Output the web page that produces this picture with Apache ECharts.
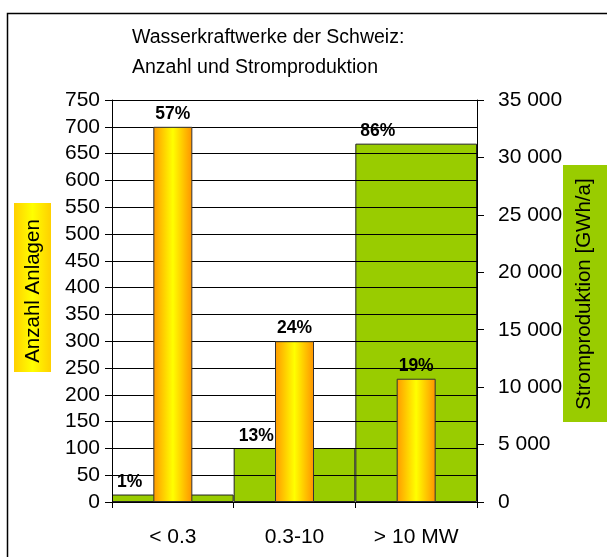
<!DOCTYPE html>
<html>
<head>
<meta charset="utf-8">
<script src="https://cdn.jsdelivr.net/npm/echarts@6/dist/echarts.min.js"></script>
<style>html,body{margin:0;padding:0;background:#fff;}#c{width:607px;height:557px;}</style>
</head>
<body>
<div id="c"></div>
<script>
var categories = ['< 0.3', '0.3-10', '> 10 MW'];
var anzahlAnlagen = [700, 300, 230];
var stromproduktion = [650, 4700, 31200];
var anzahlLabels = ['57%', '24%', '19%'];
var stromLabels = ['1%', '13%', '86%'];
var leftTicks = {min: 0, max: 750, interval: 50};
var rightTicks = {min: 0, max: 35000, interval: 5000};

var FONT = '"Liberation Sans", Arial, sans-serif';

var chart = echarts.init(document.getElementById('c'), null, {renderer: 'canvas'});
var orangeGrad = new echarts.graphic.LinearGradient(0, 0, 1, 0, [
  {offset: 0, color: '#FF9900'},
  {offset: 0.5, color: '#FFFF00'},
  {offset: 1, color: '#FF9200'}
]);
var yellowBox = new echarts.graphic.LinearGradient(0, 0, 1, 0, [
  {offset: 0, color: '#FFD000'},
  {offset: 0.5, color: '#FFFF00'},
  {offset: 1, color: '#FFD000'}
]);

chart.setOption({
  animation: false,
  title: {
    text: 'Wasserkraftwerke der Schweiz:\nAnzahl und Stromproduktion',
    left: 132, top: 23, padding: 0,
    textStyle: {fontFamily: FONT, fontSize: 19.5, fontWeight: 'normal', color: '#000', lineHeight: 30}
  },
  grid: {left: 112, right: 130, top: 100, bottom: 55, containLabel: false},
  xAxis: [{
    type: 'category', data: categories, position: 'bottom',
    axisLine: {lineStyle: {color: '#000', width: 1}},
    axisTick: {show: true, alignWithLabel: false, length: 6, lineStyle: {color: '#000'}},
    axisLabel: {fontFamily: FONT, fontSize: 21, color: '#000', margin: 25},
    splitLine: {show: false}
  }, {
    type: 'category', data: categories, show: false
  }],
  yAxis: [{
    type: 'value', min: leftTicks.min, max: leftTicks.max, interval: leftTicks.interval, z: 1.5,
    axisLine: {show: true, lineStyle: {color: '#000', width: 1}},
    axisTick: {show: true, length: 7, lineStyle: {color: '#000'}},
    axisLabel: {fontFamily: FONT, fontSize: 21, color: '#000', margin: 12},
    splitLine: {show: true, lineStyle: {color: '#000', width: 1}}
  }, {
    type: 'value', min: rightTicks.min, max: rightTicks.max, interval: rightTicks.interval, position: 'right',
    axisLine: {show: true, lineStyle: {color: '#000', width: 1}},
    axisTick: {show: true, length: 7, lineStyle: {color: '#000'}},
    axisLabel: {fontFamily: FONT, fontSize: 21, color: '#000', margin: 21,
      formatter: function (v) { return String(v).replace(/\B(?=(\d{3})+(?!\d))/g, ' '); }},
    splitLine: {show: false}
  }],
  series: [{
    type: 'bar', name: 'Stromproduktion', xAxisIndex: 0, yAxisIndex: 1, z: 1,
    data: stromproduktion, barWidth: '100%', barCategoryGap: '0%',
    itemStyle: {color: '#99CC00', borderColor: '#222', borderWidth: 1},
    label: {show: true, position: [5, -3], align: 'left', verticalAlign: 'bottom',
      fontFamily: FONT, fontWeight: 'bold', fontSize: 17.5, color: '#000',
      formatter: function (p) { return stromLabels[p.dataIndex]; }}
  }, {
    type: 'bar', name: 'Anzahl Anlagen', xAxisIndex: 1, yAxisIndex: 0, z: 3,
    data: anzahlAnlagen, barWidth: 39,
    itemStyle: {color: orangeGrad, borderColor: '#333', borderWidth: 1},
    label: {show: true, position: 'top', distance: 4,
      fontFamily: FONT, fontWeight: 'bold', fontSize: 17.5, color: '#000',
      formatter: function (p) { return anzahlLabels[p.dataIndex]; }}
  }],
  graphic: [
    {type: 'rect', shape: {x: 7.5, y: 13.5, width: 700, height: 700}, style: {fill: 'none', stroke: '#000', lineWidth: 1.5}, silent: true},
    {type: 'rect', shape: {x: 14, y: 203, width: 37, height: 169}, style: {fill: yellowBox}},
    {type: 'text', x: 33, y: 291, rotation: Math.PI / 2,
      style: {text: 'Anzahl Anlagen', font: '20.5px ' + FONT, fill: '#000', align: 'center', verticalAlign: 'middle'}},
    {type: 'rect', shape: {x: 563, y: 165, width: 50, height: 257}, style: {fill: '#99CC00'}},
    {type: 'text', x: 584, y: 294, rotation: Math.PI / 2,
      style: {text: 'Stromproduktion [GWh/a]', font: '20.5px ' + FONT, fill: '#000', align: 'center', verticalAlign: 'middle'}}
  ]
});
</script>
</body>
</html>
